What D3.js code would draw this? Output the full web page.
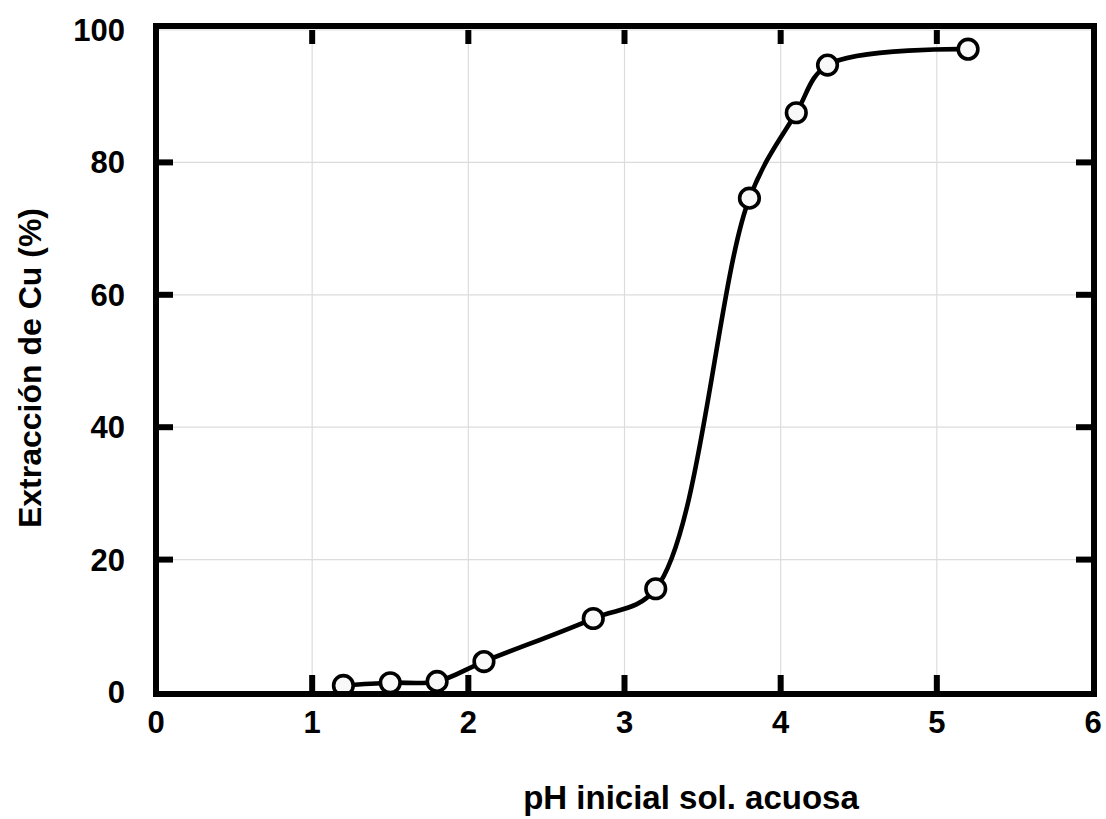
<!DOCTYPE html>
<html>
<head>
<meta charset="utf-8">
<script src="https://cdn.jsdelivr.net/npm/d3@7"></script>
<style>
  html, body { margin: 0; padding: 0; background: #fff; }
  svg text { font-family: "Liberation Sans", Arial, sans-serif; font-weight: bold; fill: #000; }
</style>
</head>
<body>
<svg id="chart" width="1106" height="819"></svg>
<script>
// Data
const pH = [1.2, 1.5, 1.8, 2.1, 2.8, 3.2, 3.8, 4.1, 4.3, 5.2];
const extraction = [1.0, 1.4, 1.6, 4.6, 11.1, 15.6, 74.6, 87.5, 94.7, 97.1];
const xTicks = [0, 1, 2, 3, 4, 5, 6];
const yTicks = [0, 20, 40, 60, 80, 100];
const xTitle = "pH inicial sol. acuosa";
const yTitle = "Extracción de Cu (%)";

const svg = d3.select("#chart");
const plotLeft = 156, plotRight = 1093, plotTop = 30, plotBottom = 692;
const x = d3.scaleLinear().domain([0, 6]).range([plotLeft, plotRight]);
const y = d3.scaleLinear().domain([0, 100]).range([plotBottom, plotTop]);

// gridlines
const grid = svg.append("g");
grid.selectAll("line.gx").data(xTicks.slice(1, -1)).enter().append("line")
  .attr("x1", d => x(d)).attr("x2", d => x(d))
  .attr("y1", y(100)).attr("y2", y(0))
  .attr("stroke", "#dcdcdc").attr("stroke-width", 1.2);
grid.selectAll("line.gy").data(yTicks.slice(1)).enter().append("line")
  .attr("x1", x(0)).attr("x2", x(6))
  .attr("y1", d => y(d)).attr("y2", d => y(d))
  .attr("stroke", "#dcdcdc").attr("stroke-width", 1.2);

// inner ticks on all four sides
const tickLen = 17, tickW = 6;
const tk = svg.append("g").attr("stroke", "#000").attr("stroke-width", tickW);
xTicks.slice(1, -1).forEach(v => {
  tk.append("line").attr("x1", x(v)).attr("x2", x(v)).attr("y1", y(0)).attr("y2", y(0) - tickLen);
  tk.append("line").attr("x1", x(v)).attr("x2", x(v)).attr("y1", y(100)).attr("y2", y(100) + tickLen - 3);
});
yTicks.slice(1, -1).forEach(v => {
  tk.append("line").attr("y1", y(v)).attr("y2", y(v)).attr("x1", x(0)).attr("x2", x(0) + tickLen);
  tk.append("line").attr("y1", y(v)).attr("y2", y(v)).attr("x1", x(6)).attr("x2", x(6) - tickLen);
});

// curve
const line = d3.line()
  .x((d, i) => x(pH[i]))
  .y((d, i) => y(extraction[i]))
  .curve(d3.curveCatmullRom.alpha(0.5));
svg.append("path")
  .datum(extraction)
  .attr("d", line)
  .attr("fill", "none")
  .attr("stroke", "#000")
  .attr("stroke-width", 4.6);

// markers
svg.append("g").selectAll("circle").data(extraction).enter().append("circle")
  .attr("cx", (d, i) => x(pH[i]))
  .attr("cy", d => y(d))
  .attr("r", 9.8)
  .attr("fill", "#f8f8f8")
  .attr("stroke", "#000")
  .attr("stroke-width", 3.6);

// frame
svg.append("rect")
  .attr("x", 156).attr("y", 26)
  .attr("width", 1094 - 156).attr("height", 694 - 26)
  .attr("fill", "none").attr("stroke", "#000").attr("stroke-width", 6);

// tick labels
svg.append("g").selectAll("text").data(xTicks).enter().append("text")
  .attr("x", d => x(d)).attr("y", 733)
  .attr("text-anchor", "middle")
  .attr("font-size", 31)
  .text(d => d);
svg.append("g").selectAll("text").data(yTicks).enter().append("text")
  .attr("x", 125).attr("y", d => y(d) + 11)
  .attr("text-anchor", "end")
  .attr("font-size", 31)
  .text(d => d);

// axis titles
svg.append("text")
  .attr("x", 691).attr("y", 809)
  .attr("text-anchor", "middle")
  .attr("font-size", 33)
  .text(xTitle);
svg.append("text")
  .attr("transform", "translate(41,368) rotate(-90)")
  .attr("text-anchor", "middle")
  .attr("font-size", 32)
  .text(yTitle);
</script>
</body>
</html>
